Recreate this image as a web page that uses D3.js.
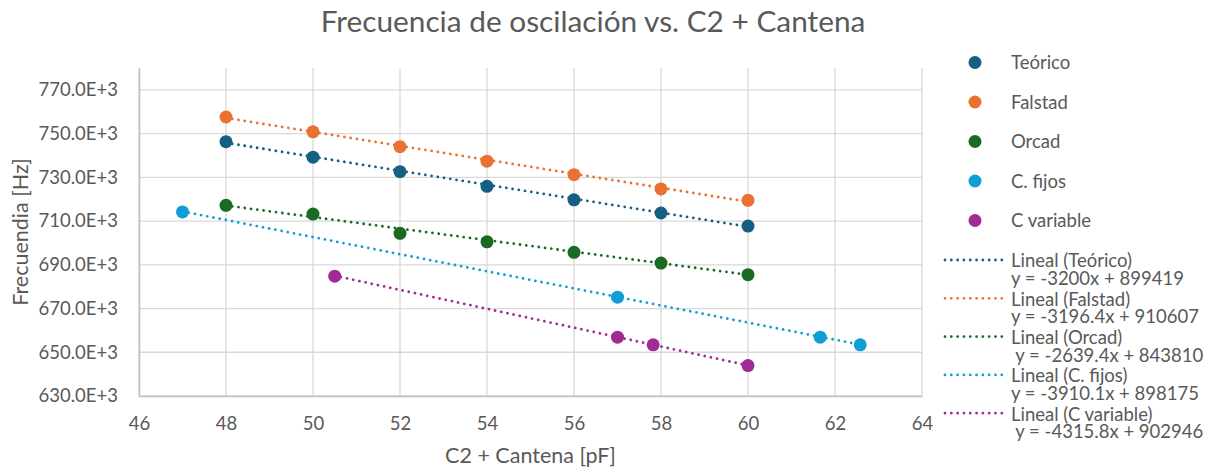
<!DOCTYPE html>
<html>
<head>
<meta charset="utf-8">
<script src="https://cdn.jsdelivr.net/npm/d3@7"></script>
<style>
  html, body { margin: 0; padding: 0; background: #fff; }
  svg { display: block; font-family: Lato, "Open Sans", sans-serif; }
  text { white-space: pre; }
</style>
</head>
<body>
<svg id="chart" width="1216" height="471"></svg>
<script>
// ---- data ----
const seriesNames = ["Teórico", "Falstad", "Orcad", "C. fijos", "C variable"];
const teoricoX = [48, 50, 52, 54, 56, 58, 60];
const teoricoY = [746300, 739200, 732600, 725900, 719700, 713700, 707700];
const falstadX = [48, 50, 52, 54, 56, 58, 60];
const falstadY = [757600, 750800, 744000, 737400, 731200, 724700, 719500];
const orcadX = [48, 50, 52, 54, 56, 58, 60];
const orcadY = [717200, 713200, 704400, 700500, 695700, 690800, 685500];
const fijosX = [47, 57, 61.66, 62.58];
const fijosY = [714200, 675200, 656900, 653400];
const variableX = [50.5, 57, 57.82, 60];
const variableY = [684800, 656900, 653400, 643900];
const trendSlopes = [-3200, -3196.4, -2639.4, -3910.1, -4315.8];
const trendIntercepts = [899419, 910607, 843810, 898175, 902946];
const trendLabels = ["Lineal (Teórico)", "Lineal (Falstad)", "Lineal (Orcad)", "Lineal (C. fijos)", "Lineal (C variable)"];
const trendEquations = ["y = -3200x + 899419", "y = -3196.4x + 910607", " y = -2639.4x + 843810", "y = -3910.1x + 898175", " y = -4315.8x + 902946"];
const xTicks = [46, 48, 50, 52, 54, 56, 58, 60, 62, 64];
const yTicks = [630000, 650000, 670000, 690000, 710000, 730000, 750000, 770000];
const xDomain = [46, 64];
const yDomain = [630000, 780000];
const colors = ["#156082", "#E97132", "#196B24", "#0F9ED5", "#A02B93"];
const titleText = "Frecuencia de oscilación vs. C2 + Cantena";
const xTitle = "C2 + Cantena [pF]";
const yTitle = "Frecuendia [Hz]";

const seriesX = [teoricoX, falstadX, orcadX, fijosX, variableX];
const seriesY = [teoricoY, falstadY, orcadY, fijosY, variableY];
const series = seriesNames.map((n, i) => ({
  name: n, color: colors[i],
  points: seriesX[i].map((x, j) => ({x, y: seriesY[i][j]})),
  slope: trendSlopes[i], intercept: trendIntercepts[i],
  tLabel: trendLabels[i], tEq: trendEquations[i]
}));

// ---- layout ----
const svg = d3.select("#chart");
const plot = {left: 139, right: 922, top: 68, bottom: 396};
const x = d3.scaleLinear().domain(xDomain).range([plot.left, plot.right]);
const y = d3.scaleLinear().domain(yDomain).range([plot.bottom, plot.top]);
const textColor = "#595959";
const gridColor = "#d9d9d9";
const tickFont = 18.5;
const legendFont = 18.5;

// gridlines
const g = svg.append("g");
g.selectAll(".hg").data(yTicks).join("line")
  .attr("x1", plot.left).attr("x2", plot.right)
  .attr("y1", d => y(d)).attr("y2", d => y(d))
  .attr("stroke", gridColor).attr("stroke-width", 1.3);
g.selectAll(".vg").data(xTicks).join("line")
  .attr("x1", d => x(d)).attr("x2", d => x(d))
  .attr("y1", plot.top).attr("y2", plot.bottom)
  .attr("stroke", gridColor).attr("stroke-width", 1.3);

// axes
const xAxis = d3.axisBottom(x).tickValues(xTicks).tickSize(0).tickPadding(21).tickFormat(d3.format("d"));
const yAxis = d3.axisLeft(y).tickValues(yTicks).tickSize(0).tickPadding(21)
  .tickFormat(d => (d / 1000).toFixed(1) + "E+3");
const gx = svg.append("g").attr("transform", `translate(0,${plot.bottom})`).call(xAxis);
const gy = svg.append("g").attr("transform", `translate(${plot.left},0)`).call(yAxis);
[gx, gy].forEach(a => {
  a.select(".domain").attr("stroke", "#bfbfbf").attr("stroke-width", 1.5);
  a.selectAll("text").attr("fill", textColor).attr("font-size", tickFont).attr("font-family", "Lato");
});

// trendlines
series.forEach(s => {
  const xs = d3.extent(s.points, p => p.x);
  svg.append("line")
    .attr("x1", x(xs[0])).attr("y1", y(s.slope * xs[0] + s.intercept))
    .attr("x2", x(xs[1])).attr("y2", y(s.slope * xs[1] + s.intercept))
    .attr("stroke", s.color).attr("stroke-width", 2.8)
    .attr("stroke-linecap", "round").attr("stroke-dasharray", "0.01 6.3");
});

// markers
series.forEach(s => {
  svg.append("g").selectAll("circle").data(s.points).join("circle")
    .attr("cx", d => x(d.x)).attr("cy", d => y(d.y)).attr("r", 6.5)
    .attr("fill", s.color);
});

// titles
svg.append("text").attr("x", 593).attr("y", 32).attr("text-anchor", "middle")
  .attr("fill", textColor).attr("font-size", 29.8).text(titleText);
svg.append("text").attr("x", (plot.left + plot.right) / 2).attr("y", 463).attr("text-anchor", "middle")
  .attr("fill", textColor).attr("font-size", 21.5).text(xTitle);
svg.append("text").attr("transform", `translate(28,${(plot.top + plot.bottom) / 2}) rotate(-90)`)
  .attr("text-anchor", "middle").attr("fill", textColor).attr("font-size", 21.5).text(yTitle);

// legend: markers
const leg = svg.append("g");
series.forEach((s, i) => {
  const cy = 62.5 + i * 39.5;
  leg.append("circle").attr("cx", 975).attr("cy", cy).attr("r", 6.5).attr("fill", s.color);
  leg.append("text").attr("x", 1011).attr("y", cy + 6.7).attr("fill", textColor)
    .attr("font-size", legendFont).text(s.name);
});
// legend: trendlines
series.forEach((s, i) => {
  const ly = 260 + i * 38.3;
  leg.append("line").attr("x1", 945).attr("x2", 1003).attr("y1", ly).attr("y2", ly)
    .attr("stroke", s.color).attr("stroke-width", 2.8)
    .attr("stroke-linecap", "round").attr("stroke-dasharray", "0.01 6.3");
  leg.append("text").attr("x", 1011).attr("y", ly + 7.3).attr("fill", textColor)
    .attr("font-size", legendFont).text(s.tLabel);
  leg.append("text").attr("x", 1011).attr("y", ly + 25).attr("fill", textColor)
    .attr("font-size", legendFont).text(s.tEq);
});
</script>
</body>
</html>
